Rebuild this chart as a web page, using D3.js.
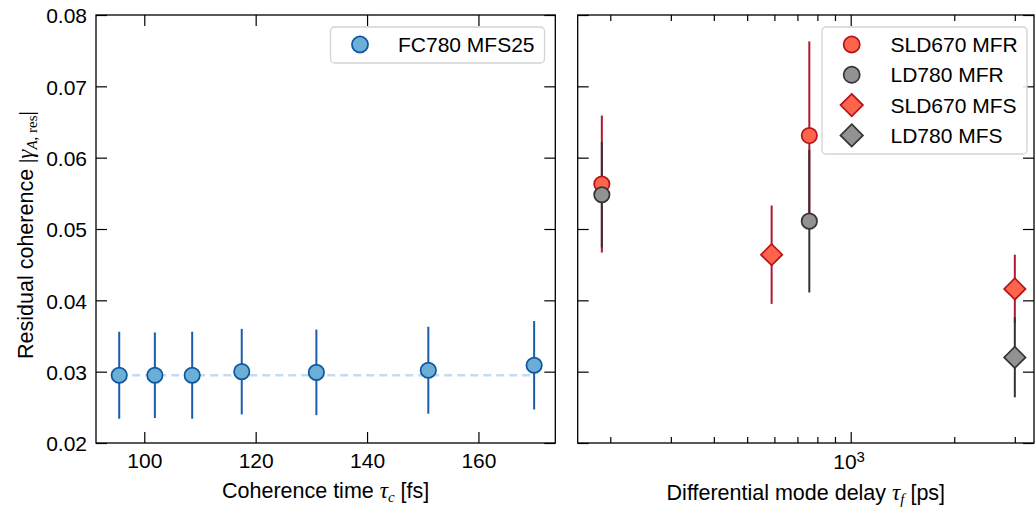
<!DOCTYPE html>
<html>
<head>
<meta charset="utf-8">
<script src="https://cdn.jsdelivr.net/npm/d3@7"></script>
<style>
  html, body { margin: 0; padding: 0; background: #fff; }
  svg { display: block; }
  text { font-family: "Liberation Sans", Arial, Helvetica, sans-serif; fill: #000; }
  .serif { font-family: "Liberation Serif", "DejaVu Serif", serif; font-style: italic; }
</style>
</head>
<body>
<svg id="chart" width="1035" height="509"></svg>
<script>
// ---------------- DATA ----------------
// Left panel: FC780 MFS25
const fcTau = [95.5, 101.9, 108.6, 117.5, 130.9, 151.0, 170.0];      // coherence time [fs]
const fcGamma = [0.0295, 0.0295, 0.0295, 0.0300, 0.0299, 0.0302, 0.0309];
const fcErr = [0.0061, 0.0060, 0.0061, 0.0060, 0.0060, 0.0061, 0.0062];
const fcRefLevel = 0.0295;

// Right panel series
const sldMfrDelay = [189, 758];
const sldMfrGamma = [0.0563, 0.0631];
const sldMfrErr = [0.0096, 0.0132];

const ldMfrDelay = [189, 758];
const ldMfrGamma = [0.0548, 0.0511];
const ldMfrErr = [0.0074, 0.0100];

const sldMfsDelay = [589, 3000];
const sldMfsGamma = [0.0464, 0.0416];
const sldMfsErr = [0.0069, 0.0048];

const ldMfsDelay = [3000];
const ldMfsGamma = [0.0320];
const ldMfsErr = [0.0056];

const yTicks = [0.02, 0.03, 0.04, 0.05, 0.06, 0.07, 0.08];
const xTicksLeft = [100, 120, 140, 160];
const xMajorRight = [1000];
const xMinorRight = [200, 300, 400, 500, 600, 700, 800, 900, 2000, 3000];

const seriesNames = ["SLD670 MFR", "LD780 MFR", "SLD670 MFS", "LD780 MFS"];
const leftLegendName = "FC780 MFS25";

// ---------------- STYLE ----------------
const blue = { fill: "#6baed6", stroke: "#0d55a0", bar: "#1b5ea8" };
const red = { fill: "#fd654a", stroke: "#b5121b", bar: "#b2182b" };
const gray = { fill: "#929292", stroke: "#333333", bar: "#333333" };

const svg = d3.select("#chart");
const FS = 21;      // tick labels
const AFS = 21.5;   // axis labels

const yTop = 15, yBot = 443;
const L = { x0: 96, x1: 555.3 };
const R = { x0: 577.7, x1: 1034 };

const y = d3.scaleLinear().domain([0.02, 0.08]).range([yBot, yTop]);
const xL = d3.scaleLinear().domain([91.33, 173.8]).range([L.x0, L.x1]);
const xR = d3.scaleLog().domain([160.8, 3411]).range([R.x0, R.x1]);

function styleAxis(g) {
  g.select(".domain").remove();
  g.selectAll(".tick line").attr("stroke", "#000").attr("stroke-width", 1.2);
  g.selectAll("text").style("font-size", FS + "px").attr("fill", "#000")
    .style("font-family", '"Liberation Sans", Arial, sans-serif');
}

// ---------- Left panel ----------
const gl = svg.append("g");
gl.append("g").attr("transform", `translate(${L.x0},0)`)
  .call(d3.axisLeft(y).tickValues(yTicks).tickSize(-11).tickPadding(9).tickFormat(d3.format(".2f")))
  .call(styleAxis).call(g => g.selectAll("text").attr("dy", "0.38em"));
gl.append("g").attr("transform", `translate(${L.x1},0)`)
  .call(d3.axisRight(y).tickValues(yTicks).tickSize(-11).tickFormat(""))
  .call(styleAxis);
gl.append("g").attr("transform", `translate(0,${yBot})`)
  .call(d3.axisBottom(xL).tickValues(xTicksLeft).tickSize(-11).tickPadding(10).tickFormat(d3.format("d")))
  .call(styleAxis);
gl.append("g").attr("transform", `translate(0,${yTop})`)
  .call(d3.axisTop(xL).tickValues(xTicksLeft).tickSize(-11).tickFormat(""))
  .call(styleAxis);

// dashed reference
gl.append("line")
  .attr("x1", xL(d3.min(fcTau))).attr("x2", xL(d3.max(fcTau)))
  .attr("y1", y(fcRefLevel)).attr("y2", y(fcRefLevel))
  .attr("stroke", "#c6dbef").attr("stroke-width", 2.4).attr("stroke-dasharray", "8,5");

const fcData = fcTau.map((t, i) => ({ x: t, y: fcGamma[i], e: fcErr[i] }));
gl.selectAll(".fcbar").data(fcData).enter().append("line")
  .attr("x1", d => xL(d.x)).attr("x2", d => xL(d.x))
  .attr("y1", d => y(d.y - d.e)).attr("y2", d => y(d.y + d.e))
  .attr("stroke", blue.bar).attr("stroke-width", 2);
gl.selectAll(".fcpt").data(fcData).enter().append("circle")
  .attr("cx", d => xL(d.x)).attr("cy", d => y(d.y)).attr("r", 7.7)
  .attr("fill", blue.fill).attr("stroke", blue.stroke).attr("stroke-width", 1.7);

gl.append("rect").attr("x", L.x0).attr("y", yTop).attr("width", L.x1 - L.x0).attr("height", yBot - yTop)
  .attr("fill", "none").attr("stroke", "#000").attr("stroke-width", 1.3);

// ---------- Right panel ----------
const gr = svg.append("g");
gr.append("g").attr("transform", `translate(${R.x0},0)`)
  .call(d3.axisLeft(y).tickValues(yTicks).tickSize(-11).tickFormat(""))
  .call(styleAxis);
gr.append("g").attr("transform", `translate(${R.x1},0)`)
  .call(d3.axisRight(y).tickValues(yTicks).tickSize(-11).tickFormat(""))
  .call(styleAxis);
gr.append("g").attr("transform", `translate(0,${yBot})`)
  .call(d3.axisBottom(xR).tickValues(xMinorRight).tickSize(-6).tickFormat(""))
  .call(styleAxis);
gr.append("g").attr("transform", `translate(0,${yTop})`)
  .call(d3.axisTop(xR).tickValues(xMinorRight).tickSize(-6).tickFormat(""))
  .call(styleAxis);
const majB = gr.append("g").attr("transform", `translate(0,${yBot})`)
  .call(d3.axisBottom(xR).tickValues(xMajorRight).tickSize(-11).tickPadding(11).tickFormat(""))
  .call(styleAxis);
majB.selectAll(".tick text").each(function(d) {
  const t = d3.select(this);
  const exp = Math.round(Math.log10(d));
  t.text(null).attr("text-anchor", "middle").attr("dx", "-0.1em");
  t.append("tspan").text("10");
  t.append("tspan").attr("dy", "-0.45em").style("font-size", "15px").text(String(exp));
});
gr.append("g").attr("transform", `translate(0,${yTop})`)
  .call(d3.axisTop(xR).tickValues(xMajorRight).tickSize(-11).tickFormat(""))
  .call(styleAxis);

const rightSeries = [
  { name: seriesNames[0], xs: sldMfrDelay, ys: sldMfrGamma, es: sldMfrErr, c: red, shape: "circle" },
  { name: seriesNames[1], xs: ldMfrDelay, ys: ldMfrGamma, es: ldMfrErr, c: gray, shape: "circle" },
  { name: seriesNames[2], xs: sldMfsDelay, ys: sldMfsGamma, es: sldMfsErr, c: red, shape: "diamond" },
  { name: seriesNames[3], xs: ldMfsDelay, ys: ldMfsGamma, es: ldMfsErr, c: gray, shape: "diamond" }
];

const barsG = gr.append("g");
const marksG = gr.append("g");
function drawMarker(g, shape, cx, cy, c, scale) {
  if (shape === "circle") {
    g.append("circle").attr("cx", cx).attr("cy", cy).attr("r", 7.7 * scale)
      .attr("fill", c.fill).attr("stroke", c.stroke).attr("stroke-width", 1.7);
  } else {
    const h = 10.7 * scale;
    g.append("path").attr("d", `M${cx},${cy - h}L${cx + h},${cy}L${cx},${cy + h}L${cx - h},${cy}Z`)
      .attr("fill", c.fill).attr("stroke", c.stroke).attr("stroke-width", 1.7).attr("stroke-linejoin", "miter");
  }
}
rightSeries.forEach(s => {
  s.xs.forEach((xv, i) => {
    barsG.append("line")
      .attr("x1", xR(xv)).attr("x2", xR(xv))
      .attr("y1", y(s.ys[i] - s.es[i])).attr("y2", y(s.ys[i] + s.es[i]))
      .attr("stroke", s.c.bar).attr("stroke-width", 2);
  });
});
rightSeries.forEach(s => {
  s.xs.forEach((xv, i) => drawMarker(marksG, s.shape, xR(xv), y(s.ys[i]), s.c, 1));
});

gr.append("rect").attr("x", R.x0).attr("y", yTop).attr("width", R.x1 - R.x0).attr("height", yBot - yTop)
  .attr("fill", "none").attr("stroke", "#000").attr("stroke-width", 1.3);

// ---------- Legends ----------
const LFS = 21;
const lg1 = svg.append("g");
lg1.append("rect").attr("x", 330.5).attr("y", 27).attr("width", 214).attr("height", 36).attr("rx", 4)
  .attr("fill", "#fff").attr("fill-opacity", 0.85).attr("stroke", "#d3d3d3").attr("stroke-width", 1.3);
drawMarker(lg1, "circle", 360, 44.5, blue, 1.05);
lg1.append("text").attr("x", 398).attr("y", 52).style("font-size", LFS + "px").text(leftLegendName);

const lg2 = svg.append("g");
lg2.append("rect").attr("x", 822).attr("y", 27).attr("width", 205).attr("height", 127).attr("rx", 4)
  .attr("fill", "#fff").attr("fill-opacity", 0.85).attr("stroke", "#d3d3d3").attr("stroke-width", 1.3);
rightSeries.forEach((s, i) => {
  const yy = 44.5 + i * 30.3;
  drawMarker(lg2, s.shape, 851.7, yy, s.c, 1.05);
  lg2.append("text").attr("x", 890.5).attr("y", yy + 7.5).style("font-size", LFS + "px").text(s.name);
});

// ---------- Axis labels ----------
const xl1 = svg.append("text").attr("x", (L.x0 + L.x1) / 2).attr("y", 498).attr("text-anchor", "middle")
  .style("font-size", AFS + "px");
xl1.append("tspan").text("Coherence time ");
xl1.append("tspan").attr("class", "serif").style("font-size", "23px").text("τ");
xl1.append("tspan").attr("class", "serif").attr("dy", "4").style("font-size", "15px").text("c");
xl1.append("tspan").attr("dy", "-4").text(" [fs]");

const xl2 = svg.append("text").attr("x", (R.x0 + R.x1) / 2).attr("y", 500).attr("text-anchor", "middle")
  .style("font-size", AFS + "px");
xl2.append("tspan").text("Differential mode delay ");
xl2.append("tspan").attr("class", "serif").style("font-size", "23px").text("τ");
xl2.append("tspan").attr("class", "serif").attr("dy", "4").style("font-size", "15px").text("f");
xl2.append("tspan").attr("dy", "-4").text(" [ps]");

const yl = svg.append("text").attr("transform", `translate(33,235) rotate(-90)`).attr("text-anchor", "middle")
  .style("font-size", AFS + "px");
yl.append("tspan").text("Residual coherence ");
yl.append("tspan").style("font-family", '"Liberation Serif", serif').text("|");
yl.append("tspan").attr("class", "serif").style("font-size", "23px").text("γ");
yl.append("tspan").attr("class", "serif").attr("dy", "4").style("font-size", "15px").text("A");
yl.append("tspan").style("font-family", '"Liberation Serif", serif').style("font-size", "15px").text(", res");
yl.append("tspan").attr("dy", "-4").style("font-family", '"Liberation Serif", serif').text("|");
</script>
</body>
</html>
